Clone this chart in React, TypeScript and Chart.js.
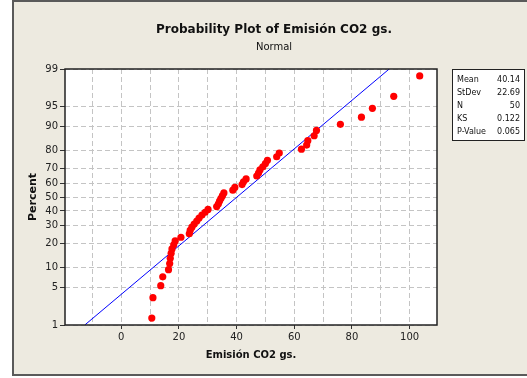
import React, { useEffect, useRef } from 'react';
import { Chart, registerables } from 'chart.js';
Chart.register(...registerables);

// Sorted observations (x) and their plotting positions (percent)
const emission = [
  10.6, 11.0, 13.7, 14.4, 16.4, 16.8, 17.0, 17.3, 17.6, 18.2,
  18.7, 20.7, 23.6, 23.9, 24.5, 25.3, 26.2, 27.0, 28.0, 29.1,
  30.1, 33.1, 33.7, 34.1, 34.6, 35.1, 35.6, 38.7, 39.4, 41.9,
  42.4, 43.3, 47.0, 47.6, 48.1, 49.1, 50.0, 50.7, 53.9, 54.8,
  62.5, 64.3, 64.7, 66.9, 67.7, 76.0, 83.3, 87.1, 94.5, 103.5,
];
const percent = [
  1.39, 3.37, 5.36, 7.34, 9.33, 11.31, 13.29, 15.28, 17.26, 19.25,
  21.23, 23.21, 25.2, 27.18, 29.17, 31.15, 33.13, 35.12, 37.1, 39.09,
  41.07, 43.06, 45.04, 47.02, 49.01, 50.99, 52.98, 54.96, 56.94, 58.93,
  60.91, 62.9, 64.88, 66.87, 68.85, 70.83, 72.82, 74.8, 76.79, 78.77,
  80.75, 82.74, 84.72, 86.71, 88.69, 90.67, 92.66, 94.64, 96.63, 98.61,
];
const fitX = [-12.64, 92.92];
const fitPercent = [1, 99];
const percentTicks = [1, 5, 10, 20, 30, 40, 50, 60, 70, 80, 90, 95, 99];
const xTicks = [-10, 0, 10, 20, 30, 40, 50, 60, 70, 80, 90, 100];
const xLabelled = [0, 20, 40, 60, 80, 100];
const statLabels = ['Mean', 'StDev', 'N', 'KS', 'P-Value'];
const statValues = ['40.14', '22.69', '50', '0.122', '0.065'];
const titleText = 'Probability Plot of Emisión CO2 gs.';
const subtitleText = 'Normal';

const FONT = '"DejaVu Sans", Verdana, sans-serif';

// inverse standard normal CDF (Acklam)
function probit(p: number): number {
  const a = [-3.969683028665376e1, 2.209460984245205e2, -2.759285104469687e2, 1.38357751867269e2, -3.066479806614716e1, 2.506628277459239];
  const b = [-5.447609879822406e1, 1.615858368580409e2, -1.556989798598866e2, 6.680131188771972e1, -1.328068155288572e1];
  const c = [-7.784894002430293e-3, -3.223964580411365e-1, -2.400758277161838, -2.549732539343734, 4.374664141464968, 2.938163982698783];
  const d = [7.784695709041462e-3, 3.224671290700398e-1, 2.445134137142996, 3.754408661907416];
  const pl = 0.02425;
  if (p < pl) {
    const q = Math.sqrt(-2 * Math.log(p));
    return (((((c[0] * q + c[1]) * q + c[2]) * q + c[3]) * q + c[4]) * q + c[5]) / ((((d[0] * q + d[1]) * q + d[2]) * q + d[3]) * q + 1);
  }
  if (p > 1 - pl) {
    const q = Math.sqrt(-2 * Math.log(1 - p));
    return -(((((c[0] * q + c[1]) * q + c[2]) * q + c[3]) * q + c[4]) * q + c[5]) / ((((d[0] * q + d[1]) * q + d[2]) * q + d[3]) * q + 1);
  }
  const q = p - 0.5;
  const r = q * q;
  return (((((a[0] * r + a[1]) * r + a[2]) * r + a[3]) * r + a[4]) * r + a[5]) * q / (((((b[0] * r + b[1]) * r + b[2]) * r + b[3]) * r + b[4]) * r + 1);
}
const z = (pct: number) => probit(pct / 100);

const framePlugin = {
  id: 'minitabFrame',
  beforeDraw(chart: any) {
    const ctx = chart.ctx;
    const { left, top, right, bottom } = chart.chartArea;
    ctx.save();
    ctx.fillStyle = '#ffffff';
    ctx.fillRect(0, 0, chart.width, chart.height);
    ctx.fillStyle = '#edeae0';
    ctx.fillRect(12, 0, chart.width - 12, 376);
    ctx.strokeStyle = '#5a5a5a';
    ctx.lineWidth = 2;
    ctx.strokeRect(13, 1, chart.width + 4, 374);
    ctx.fillStyle = '#ffffff';
    ctx.fillRect(left, top, right - left, bottom - top);
    ctx.restore();
  },
  afterDraw(chart: any) {
    const ctx = chart.ctx;
    const { left, top, right, bottom } = chart.chartArea;
    ctx.save();
    ctx.strokeStyle = '#222222';
    ctx.lineWidth = 1.5;
    ctx.strokeRect(left, top, right - left, bottom - top);
    // title
    ctx.fillStyle = '#111111';
    ctx.textAlign = 'center';
    ctx.textBaseline = 'middle';
    ctx.font = `bold 12px ${FONT}`;
    ctx.fillText(titleText, 274, 30);
    ctx.font = `10px ${FONT}`;
    ctx.fillText(subtitleText, 274, 47);
    // stats box
    const bx = 452, by = 69, bw = 72, bh = 71;
    ctx.fillStyle = '#ffffff';
    ctx.fillRect(bx, by, bw, bh);
    ctx.strokeStyle = '#222222';
    ctx.lineWidth = 1;
    ctx.strokeRect(bx + 0.5, by + 0.5, bw, bh);
    ctx.font = `8px ${FONT}`;
    ctx.fillStyle = '#111111';
    statLabels.forEach((lab, i) => {
      const yy = by + 11 + i * 13;
      ctx.textAlign = 'left';
      ctx.fillText(lab, bx + 5, yy);
      ctx.textAlign = 'right';
      ctx.fillText(statValues[i], bx + bw - 4, yy);
    });
    ctx.restore();
  },
};

export default function App() {
  const ref = useRef<HTMLCanvasElement | null>(null);
  useEffect(() => {
    if (!ref.current) return;
    const chart = new Chart(ref.current, {
      type: 'scatter',
      data: {
        datasets: [
          {
            label: 'Data',
            data: emission.map((v, i) => ({ x: v, y: z(percent[i]) })),
            backgroundColor: '#ff0000',
            borderWidth: 0,
            pointRadius: 3.6,
            pointHoverRadius: 3.6,
          },
          {
            label: 'Fit',
            type: 'line',
            data: fitX.map((v, i) => ({ x: v, y: z(fitPercent[i]) })),
            borderColor: '#0000ff',
            borderWidth: 1,
            pointRadius: 0,
            showLine: true,
            fill: false,
          } as any,
        ],
      },
      options: {
        animation: false,
        responsive: false,
        devicePixelRatio: 1,
        layout: { padding: { left: 12, top: 69, right: 90, bottom: 0 } },
        plugins: { legend: { display: false }, tooltip: { enabled: false }, title: { display: false } },
        scales: {
          x: {
            type: 'linear',
            min: -19.5,
            max: 109.5,
            afterBuildTicks: (s: any) => { s.ticks = xTicks.map((v) => ({ value: v })); },
            afterFit: (s: any) => { s.height = 53; },
            ticks: {
              autoSkip: false,
              maxRotation: 0,
              padding: 2,
              color: '#222222',
              font: { family: FONT, size: 10 },
              callback: (v: any) => (xLabelled.includes(Number(v)) ? String(v) : ''),
            },
            grid: {
              color: '#c4c4c4',
              lineWidth: 1,
              tickLength: 4,
              tickColor: (c: any) => (c.tick && xLabelled.includes(c.tick.value) ? '#333333' : 'rgba(0,0,0,0)'),
            },
            border: { display: false, dash: [5, 3] },
            title: {
              display: true,
              text: 'Emisión CO2 gs.',
              color: '#111111',
              font: { family: FONT, size: 10, weight: 'bold' },
              padding: { top: 0, bottom: 17 },
            },
          },
          y: {
            type: 'linear',
            min: z(1),
            max: z(99),
            afterBuildTicks: (s: any) => { s.ticks = percentTicks.map((p) => ({ value: z(p) })); },
            afterFit: (s: any) => { s.width = 53; },
            ticks: {
              autoSkip: false,
              padding: 2,
              color: '#222222',
              font: { family: FONT, size: 10 },
              callback: (v: any) => {
                const p = percentTicks.find((t) => Math.abs(z(t) - Number(v)) < 1e-6);
                return p === undefined ? '' : String(p);
              },
            },
            grid: { color: '#c4c4c4', lineWidth: 1, tickLength: 5, tickColor: '#333333' },
            border: { display: false, dash: [5, 3] },
            title: {
              display: true,
              text: 'Percent',
              color: '#111111',
              font: { family: FONT, size: 11, weight: 'bold' },
              padding: { top: 15, bottom: 0 },
            },
          },
        },
      },
      plugins: [framePlugin],
    });
    return () => chart.destroy();
  }, []);
  return (
    <div style={{ position: 'fixed', left: 0, top: 0, width: 527, height: 378 }}>
      <canvas ref={ref} width={527} height={378} style={{ display: 'block' }} />
    </div>
  );
}
